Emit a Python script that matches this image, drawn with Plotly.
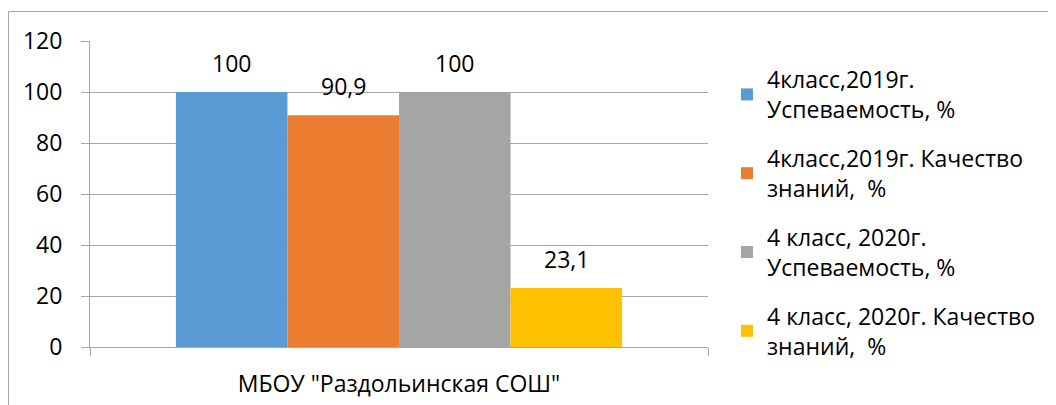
import plotly.graph_objects as go

categories = ['МБОУ "Раздольинская СОШ"']
series_names = [
    "4класс,2019г.<br>Успеваемость, %",
    "4класс,2019г. Качество<br>знаний,  %",
    "4 класс, 2020г.<br>Успеваемость, %",
    "4 класс, 2020г. Качество<br>знаний,  %",
]
series_values = [[100], [90.9], [100], [23.1]]
series_labels = ["100", "90,9", "100", "23,1"]
colors = ["#5B9BD5", "#ED7D31", "#A5A5A5", "#FFC000"]
y_ticks = [0, 20, 40, 60, 80, 100, 120]

FONT = "Open Sans"
FS = 23
OFF = 8  # page body margin
W, H = 1056 - OFF, 405 - OFF
# plot area in screen pixels
SL, SR, ST, SB = 90, 708, 41, 347
L, R, T, B = SL - OFF, SR - OFF, ST - OFF, SB - OFF

def px(X):
    return (X - SL) / (SR - SL)
def py(Y):
    return (SB - Y) / (SB - ST)

fig = go.Figure()
for name, vals, col in zip(series_names, series_values, colors):
    fig.add_trace(go.Bar(x=categories, y=vals, name=name, marker_color=col,
                         marker_line_width=0, legendgroup=name))

# data labels
n = len(series_values)
bar_px = (SR - SL) * (1 - 0.278) / n
for i, (vals, lab) in enumerate(zip(series_values, series_labels)):
    fig.add_annotation(x=categories[0], y=vals[0], text=lab, showarrow=False,
                       xshift=(i - (n - 1) / 2) * bar_px, yshift=29,
                       font=dict(family=FONT, size=FS, color="black"))

fig.add_shape(type="rect", xref="paper", yref="paper",
              x0=px(8.5), x1=px(1080), y0=py(430), y1=py(11.5),
              line=dict(color="#A6A6A6", width=1), layer="below")

fig.update_layout(
    width=W, height=H,
    margin=dict(l=L, r=W - R, t=T, b=H - B, autoexpand=False),
    paper_bgcolor="white", plot_bgcolor="white",
    barmode="group", bargap=0.278, bargroupgap=0,
    font=dict(family=FONT, size=FS, color="black"),
    legend=dict(x=px(727), xanchor="left",
                yref="container", y=1 - (58 - OFF) / H, yanchor="top",
                maxheight=H,
                font=dict(family=FONT, size=FS, color="black"),
                tracegroupgap=16, itemwidth=30, bgcolor="rgba(0,0,0,0)"),
    showlegend=True,
)
fig.update_yaxes(range=[0, 120], tickvals=y_ticks, showgrid=True,
                 gridcolor="#A6A6A6", gridwidth=1, showline=True,
                 linecolor="#A6A6A6", ticks="outside", ticklen=8,
                 tickcolor="#A6A6A6", ticklabelstandoff=14, zeroline=False,
                 tickfont=dict(family=FONT, size=FS, color="black"))
fig.update_xaxes(showline=True, linecolor="#A6A6A6", ticks="outside",
                 ticklen=8, tickcolor="#A6A6A6", tickson="boundaries",
                 ticklabelstandoff=16,
                 tickfont=dict(family=FONT, size=FS, color="black"))

fig.write_html("out.html")
